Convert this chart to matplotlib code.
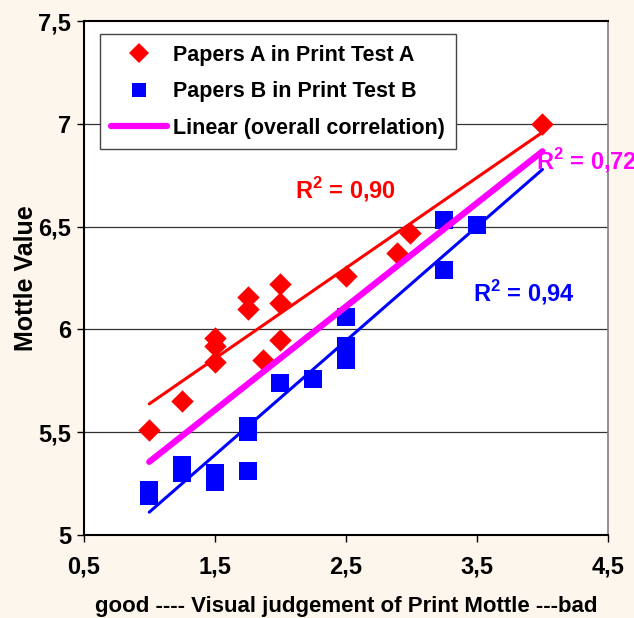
import numpy as np
import matplotlib
matplotlib.use("Agg")
import matplotlib.pyplot as plt
from matplotlib.lines import Line2D

plt.rcParams['font.family'] = ['Liberation Sans Narrow', 'Liberation Sans', 'DejaVu Sans']
plt.rcParams['font.weight'] = 'bold'

# Papers A in Print Test A
a_x = [1.0, 1.25, 1.5, 1.5, 1.5, 1.75, 1.75, 1.87, 2.0, 2.0, 2.0, 2.5, 2.89, 2.99, 4.0]
a_y = [5.51, 5.65, 5.96, 5.92, 5.84, 6.16, 6.10, 5.85, 6.22, 6.13, 5.95, 6.26, 6.37, 6.47, 7.0]
# Papers B in Print Test B
b_x = [1.0, 1.0, 1.25, 1.25, 1.5, 1.5, 1.75, 1.75, 1.75, 2.0, 2.25, 2.5, 2.5, 2.5, 3.25, 3.25, 3.5]
b_y = [5.19, 5.22, 5.34, 5.30, 5.30, 5.26, 5.31, 5.53, 5.50, 5.74, 5.76, 5.92, 5.85, 6.06, 6.53, 6.29, 6.51]

r2_labels = ["0,90", "0,94", "0,72"]
x_ticks = [0.5, 1.5, 2.5, 3.5, 4.5]
x_tick_labels = ["0,5", "1,5", "2,5", "3,5", "4,5"]
y_ticks = [5, 5.5, 6, 6.5, 7, 7.5]
y_tick_labels = ["5", "5,5", "6", "6,5", "7", "7,5"]

bg = '#FDF6EC'
fig = plt.figure(figsize=(6.34, 6.18), dpi=100, facecolor=bg)
ax = fig.add_axes([0.132, 0.1343, 0.959 - 0.132, 0.966 - 0.1343])
ax.set_facecolor('white')

ax.set_xlim(0.5, 4.5)
ax.set_ylim(5, 7.5)
for y in [5.5, 6, 6.5, 7]:
    ax.axhline(y, color='#333333', lw=0.9, zorder=1)

ax.scatter(a_x, a_y, marker='D', s=130, color='#FF0000', linewidths=0, zorder=3)
ax.scatter(b_x, b_y, marker='s', s=175, color='#0000FF', linewidths=0, zorder=3)

xr = np.array([min(a_x + b_x), max(a_x + b_x)])
pa = np.polyfit(a_x, a_y, 1)
pb = np.polyfit(b_x, b_y, 1)
pall = np.polyfit(a_x + b_x, a_y + b_y, 1)
ax.plot(xr, np.polyval(pa, xr), color='#FF0000', lw=2.2, zorder=4, solid_capstyle='round')
ax.plot(xr, np.polyval(pb, xr), color='#0000FF', lw=2.2, zorder=4, solid_capstyle='round')
ax.plot(xr, np.polyval(pall, xr), color='#FF00FF', lw=4.5, zorder=5, solid_capstyle='round')

tfs = 17
ax.text(2.11, 6.68, r"R$^{\mathregular{2}}$ = " + r2_labels[0], color='#FF0000', fontsize=tfs,
        fontweight='bold', ha='left', va='center', zorder=6)
ax.text(3.47, 6.18, r"R$^{\mathregular{2}}$ = " + r2_labels[1], color='#0000FF', fontsize=tfs,
        fontweight='bold', ha='left', va='center', zorder=6)
ax.text(3.95, 6.82, r"R$^{\mathregular{2}}$ = " + r2_labels[2], color='#FF00FF', fontsize=tfs,
        fontweight='bold', ha='left', va='center', zorder=6, clip_on=False)

ax.set_xticks(x_ticks)
ax.set_xticklabels(x_tick_labels)
ax.set_yticks(y_ticks)
ax.set_yticklabels(y_tick_labels)
ax.tick_params(direction='out', length=5, width=1, labelsize=17, pad=4)
ax.tick_params(axis='x', pad=10)

for s in ['left', 'bottom', 'top']:
    ax.spines[s].set_color('black')
    ax.spines[s].set_linewidth(1.5)
ax.spines['right'].set_color('#808080')
ax.spines['right'].set_linewidth(1.2)

ax.set_xlabel("good ---- Visual judgement of Print Mottle ---bad", fontsize=16,
              fontweight='bold', labelpad=12)
ax.set_ylabel("Mottle Value", fontsize=18, fontweight='bold', labelpad=0)

handles = [
    Line2D([], [], marker='D', color='#FF0000', linestyle='none', markersize=10, markeredgewidth=0),
    Line2D([], [], marker='s', color='#0000FF', linestyle='none', markersize=10, markeredgewidth=0),
    Line2D([], [], color='#FF00FF', lw=4.5, solid_capstyle='round'),
]
labels = ["Papers A in Print Test A", "Papers B in Print Test B", "Linear (overall correlation)"]
leg = ax.legend(handles, labels, loc='upper left', bbox_to_anchor=(0.031, 0.975),
                fontsize=15.5, frameon=True, fancybox=False, framealpha=1,
                edgecolor='#444444', borderpad=0.5, labelspacing=0.72,
                handlelength=2.6, handletextpad=0.3, borderaxespad=0)
leg.get_frame().set_linewidth(1.0)
for t in leg.get_texts():
    t.set_fontweight('bold')

fig.savefig('out.png', dpi=100, facecolor=bg)
